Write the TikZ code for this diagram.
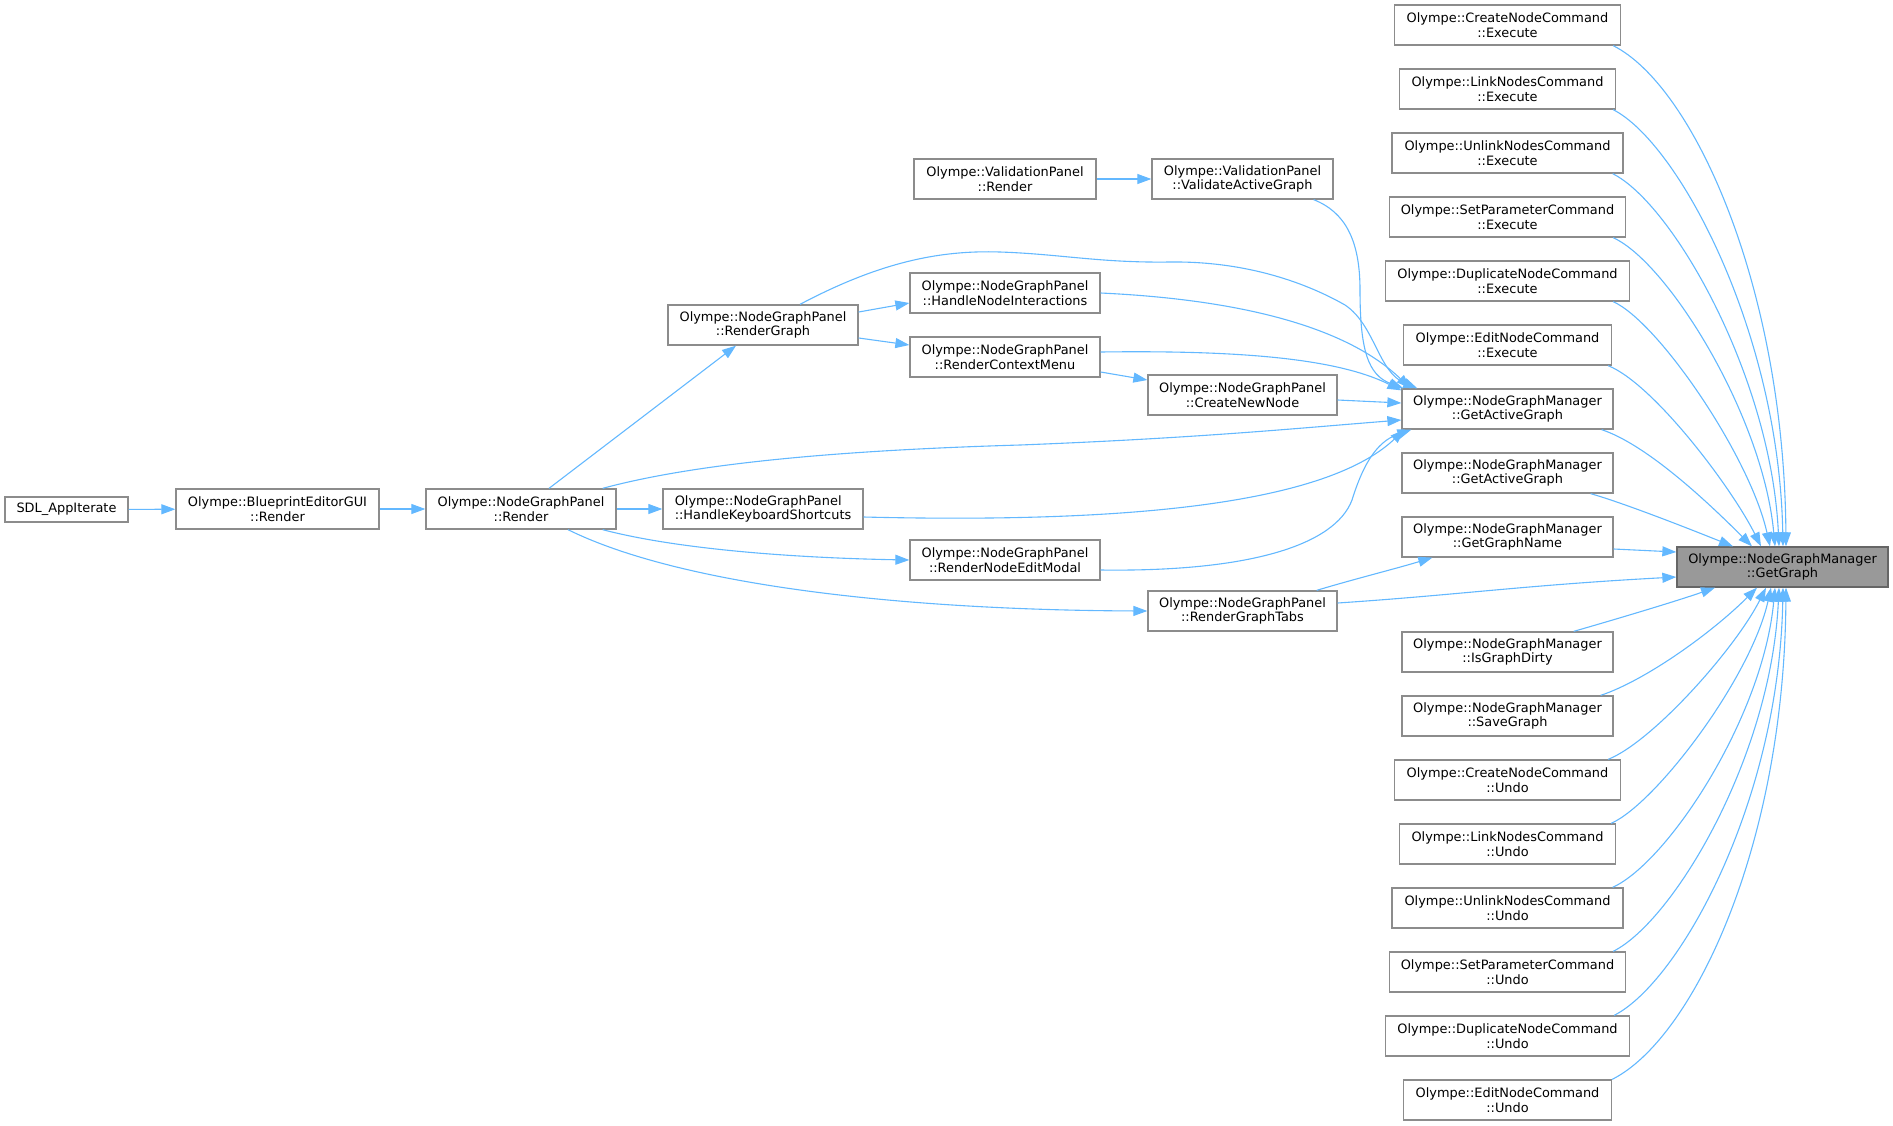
\documentclass[tikz,border=0pt]{standalone}
\usepackage{fontspec}
\setmainfont{DejaVu Sans}
\usetikzlibrary{arrows.meta,calc}
\definecolor{edgecol}{RGB}{99,184,255}
\definecolor{boxborder}{RGB}{140,140,140}
\definecolor{hlfill}{RGB}{153,153,153}
\definecolor{hlborder}{RGB}{102,102,102}
\tikzset{
  box/.style={draw=boxborder, fill=white, line width=1.3pt, minimum height=40pt, inner sep=0pt, align=center, font=\fontsize{12.9}{14.6}\selectfont},
  hl/.style={box, fill=hlfill, draw=hlborder},
  e/.style={draw=edgecol, line width=1.1pt, -{Triangle[length=14pt,width=10pt]}},
}
\begin{document}
\begin{tikzpicture}[x=1pt,y=-1pt]
\useasboundingbox (0,0) rectangle (1893,1125);
% left part
\node[box, minimum width=123pt, minimum height=25pt] (sdl) at (66.5,509.5) {SDL\_AppIterate};
\node[box, minimum width=203pt] (bp) at (277.5,509) {Olympe::BlueprintEditorGUI\\::Render};
\node[box, minimum width=190pt] (rend) at (521,509) {Olympe::NodeGraphPanel\\::Render};
\node[box, minimum width=190pt] (rg) at (763,325) {Olympe::NodeGraphPanel\\::RenderGraph};
\node[box, minimum width=200pt, align=left] (hks) at (763,509) {Olympe::NodeGraphPanel\\::HandleKeyboardShortcuts};
\node[box, minimum width=182pt] (vpr) at (1005,179) {Olympe::ValidationPanel\\::Render};
\node[box, minimum width=190pt] (hni) at (1005,293) {Olympe::NodeGraphPanel\\::HandleNodeInteractions};
\node[box, minimum width=190pt] (rcm) at (1005,357) {Olympe::NodeGraphPanel\\::RenderContextMenu};
\node[box, minimum width=190pt] (rnem) at (1005,560) {Olympe::NodeGraphPanel\\::RenderNodeEditModal};
\node[box, minimum width=181pt] (vag) at (1242.5,179) {Olympe::ValidationPanel\\::ValidateActiveGraph};
\node[box, minimum width=189pt] (cnn) at (1242.5,395) {Olympe::NodeGraphPanel\\::CreateNewNode};
\node[box, minimum width=189pt] (rgt) at (1242.5,611) {Olympe::NodeGraphPanel\\::RenderGraphTabs};
% right column
\node[box, minimum width=226pt] (cnce) at (1507.5,25) {Olympe::CreateNodeCommand\\::Execute};
\node[box, minimum width=216pt] (lnce) at (1507.5,89) {Olympe::LinkNodesCommand\\::Execute};
\node[box, minimum width=231pt] (unce) at (1507.5,153) {Olympe::UnlinkNodesCommand\\::Execute};
\node[box, minimum width=236pt] (spce) at (1507.5,217) {Olympe::SetParameterCommand\\::Execute};
\node[box, minimum width=244pt] (dnce) at (1507.5,281) {Olympe::DuplicateNodeCommand\\::Execute};
\node[box, minimum width=208pt] (ence) at (1507.5,345) {Olympe::EditNodeCommand\\::Execute};
\node[box, minimum width=211pt] (gag1) at (1507.5,409) {Olympe::NodeGraphManager\\::GetActiveGraph};
\node[box, minimum width=211pt] (gag2) at (1507.5,473) {Olympe::NodeGraphManager\\::GetActiveGraph};
\node[box, minimum width=211pt] (ggn) at (1507.5,537) {Olympe::NodeGraphManager\\::GetGraphName};
\node[box, minimum width=211pt] (igd) at (1507.5,652) {Olympe::NodeGraphManager\\::IsGraphDirty};
\node[box, minimum width=211pt] (sg) at (1507.5,716) {Olympe::NodeGraphManager\\::SaveGraph};
\node[box, minimum width=226pt] (cncu) at (1507.5,780) {Olympe::CreateNodeCommand\\::Undo};
\node[box, minimum width=216pt] (lncu) at (1507.5,844) {Olympe::LinkNodesCommand\\::Undo};
\node[box, minimum width=231pt] (uncu) at (1507.5,908) {Olympe::UnlinkNodesCommand\\::Undo};
\node[box, minimum width=236pt] (spcu) at (1507.5,972) {Olympe::SetParameterCommand\\::Undo};
\node[box, minimum width=244pt] (dncu) at (1507.5,1036) {Olympe::DuplicateNodeCommand\\::Undo};
\node[box, minimum width=208pt] (encu) at (1507.5,1100) {Olympe::EditNodeCommand\\::Undo};
\node[hl, minimum width=211pt] (gg) at (1782.5,567) {Olympe::NodeGraphManager\\::GetGraph};

% straight edges
\draw[e] (sdl) -- (bp);
\draw[e] (bp) -- (rend);
\draw[e] (rend) -- (hks);
\draw[e] (vpr) -- (vag);
\draw[e] ($(rend.north)+(28,0)$) -- ($(rg.south)+(-27,0)$);
\draw[e] ($(rg.east)+(0,-13)$) -- ($(hni.west)+(0,10)$);
\draw[e] ($(rg.east)+(0,13)$) -- ($(rcm.west)+(0,-12)$);
\draw[e] ($(rcm.east)+(0,15)$) -- ($(cnn.west)+(0,-15)$);
\draw[e] ($(cnn.east)+(0,5)$) -- ($(gag1.west)+(0,-6)$);

% render fan
\draw[e] ($(rend.south east)+(-14,0)$) .. controls (680,550) and (800,558) .. (rnem.west);
\draw[e] ($(rend.south)+(47,0)$) .. controls (680,585) and (900,610) .. (rgt.west);
\draw[e] ($(rend.north east)+(-14,0)$) .. controls (700,462) and (850,450) .. (1020,445)
   .. controls (1200,438) and (1300,428) .. ($(gag1.west)+(0,11)$);

% into GetActiveGraph
\draw[e] ($(hks.east)+(0,8)$) .. controls (1150,524) and (1330,500) .. ($(gag1.south west)+(3,0)$);
\draw[e] ($(rnem.east)+(0,10)$) .. controls (1250,572) and (1335,545) .. (1352,500)
   .. controls (1362,468) and (1375,442) .. ($(gag1.south west)+(10,0)$);
\draw[e] ($(vag.south east)+(-20,0)$) .. controls (1345,212) and (1360,240) .. (1360,290)
   .. controls (1360,350) and (1368,375) .. ($(gag1.north west)+(2,0)$);
\draw[e] ($(rg.north)+(37,0)$) .. controls (880,262) and (940,250) .. (1000,252)
   .. controls (1060,254) and (1100,263) .. (1170,262)
   .. controls (1250,261) and (1310,285) .. (1345,305)
   .. controls (1375,325) and (1378,372) .. ($(gag1.north west)+(16,0)$);
\draw[e] (hni.east) .. controls (1250,300) and (1350,330) .. ($(gag1.north west)+(9,0)$);
\draw[e] ($(rcm.east)+(0,-5)$) .. controls (1250,350) and (1340,360) .. ($(gag1.north west)+(0,2)$);

% RenderGraphTabs
\draw[e] ($(rgt.north east)+(-21,0)$) .. controls +(40,-12) and +(-40,12) .. ($(ggn.south west)+(31,0)$);
\draw[e] ($(rgt.east)+(0,-8)$) .. controls +(120,-8) and +(-150,8) .. ($(gg.west)+(0,10)$);
\draw[e] ($(ggn.east)+(0,12)$) -- ($(gg.west)+(0,-15)$);

% top fan into GetGraph
\draw[e] ($(cnce.south east)+(-8,0)$) .. controls +(80,40) and +(-2,-260) .. ($(gg.north)+(3.5,0)$);
\draw[e] ($(lnce.south east)+(-3,0)$) .. controls +(65,33) and +(-4,-215) .. ($(gg.north)+(0.5,0)$);
\draw[e] ($(unce.south east)+(-11,0)$) .. controls +(60,30) and +(-8,-170) .. ($(gg.north)+(-3.5,0)$);
\draw[e] ($(spce.south east)+(-13,0)$) .. controls +(55,25) and +(-12,-130) .. ($(gg.north)+(-7.5,0)$);
\draw[e] ($(dnce.south east)+(-17,0)$) .. controls +(45,20) and +(-20,-90) .. ($(gg.north)+(-12.5,0)$);
\draw[e] ($(ence.south east)+(-4,0)$) .. controls +(45,18) and +(-30,-60) .. ($(gg.north)+(-21.5,0)$);
\draw[e] ($(gag1.south east)+(-12,0)$) .. controls +(45,15) and +(-45,-45) .. ($(gg.north)+(-30.5,0)$);
\draw[e] ($(gag2.south east)+(-23,0)$) .. controls +(35,10) and +(-40,-16) .. ($(gg.north)+(-49.5,0)$);

% bottom fan into GetGraph
\draw[e] ($(igd.north east)+(-40,0)$) .. controls +(35,-10) and +(-40,14) .. ($(gg.south)+(-67.5,0)$);
\draw[e] ($(sg.north east)+(-13,0)$) .. controls +(45,-15) and +(-45,45) .. ($(gg.south)+(-25.5,0)$);
\draw[e] ($(cncu.north east)+(-13,0)$) .. controls +(45,-18) and +(-30,60) .. ($(gg.south)+(-16.5,0)$);
\draw[e] ($(lncu.north east)+(-5,0)$) .. controls +(45,-20) and +(-20,90) .. ($(gg.south)+(-11.5,0)$);
\draw[e] ($(uncu.north east)+(-11,0)$) .. controls +(55,-25) and +(-12,130) .. ($(gg.south)+(-7.5,0)$);
\draw[e] ($(spcu.north east)+(-13,0)$) .. controls +(60,-30) and +(-8,170) .. ($(gg.south)+(-3.5,0)$);
\draw[e] ($(dncu.north east)+(-16,0)$) .. controls +(65,-33) and +(-4,215) .. ($(gg.south)+(0.5,0)$);
\draw[e] (encu.north east) .. controls +(80,-40) and +(-2,260) .. ($(gg.south)+(3.5,0)$);
\end{tikzpicture}
\end{document}
